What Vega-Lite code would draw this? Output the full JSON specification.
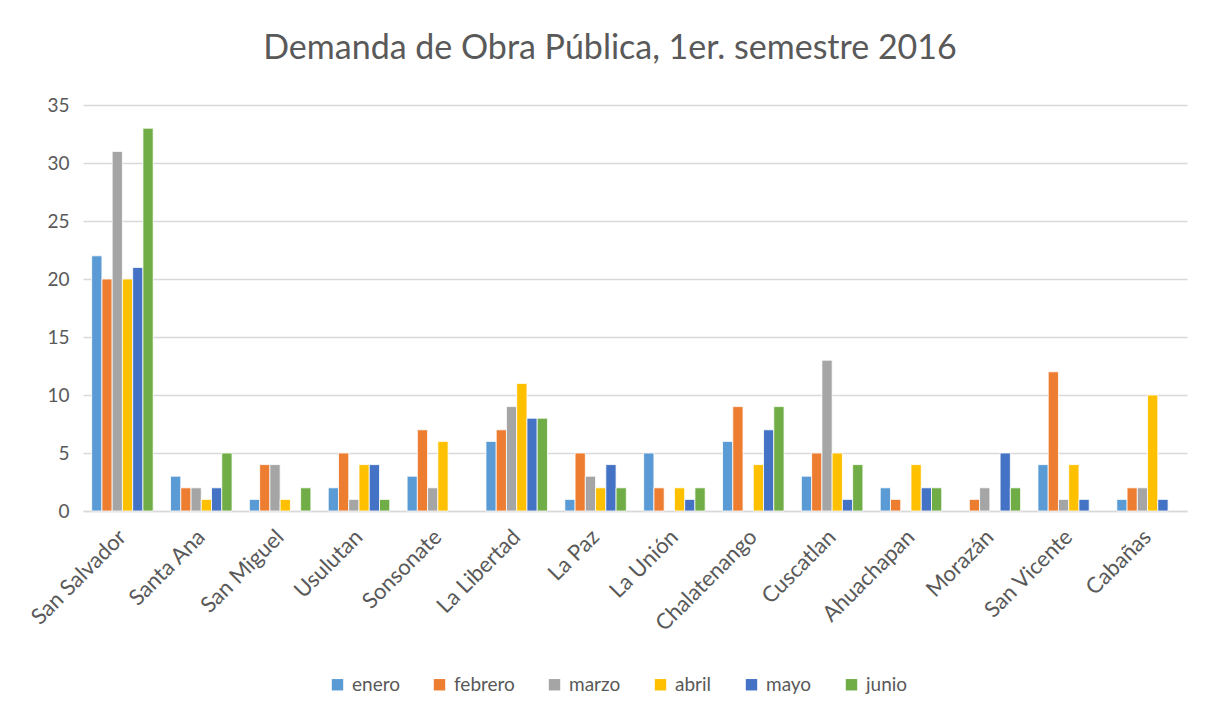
{
  "$schema": "https://vega.github.io/schema/vega-lite/v6.json",
  "width": 1104,
  "height": 406,
  "autosize": {"type": "none"},
  "padding": {"left": 83, "top": 105, "right": 27, "bottom": 206},
  "background": "white",
  "title": {
    "text": "Demanda de Obra Pública, 1er. semestre 2016",
    "font": "Lato",
    "fontSize": 34,
    "fontWeight": "normal",
    "color": "#595959",
    "anchor": "middle",
    "offset": 30,
    "dx": -25
  },
  "data": {
    "values": [
      {"dep": "San Salvador", "mes": "enero", "n": 22},
      {"dep": "San Salvador", "mes": "febrero", "n": 20},
      {"dep": "San Salvador", "mes": "marzo", "n": 31},
      {"dep": "San Salvador", "mes": "abril", "n": 20},
      {"dep": "San Salvador", "mes": "mayo", "n": 21},
      {"dep": "San Salvador", "mes": "junio", "n": 33},
      {"dep": "Santa Ana", "mes": "enero", "n": 3},
      {"dep": "Santa Ana", "mes": "febrero", "n": 2},
      {"dep": "Santa Ana", "mes": "marzo", "n": 2},
      {"dep": "Santa Ana", "mes": "abril", "n": 1},
      {"dep": "Santa Ana", "mes": "mayo", "n": 2},
      {"dep": "Santa Ana", "mes": "junio", "n": 5},
      {"dep": "San Miguel", "mes": "enero", "n": 1},
      {"dep": "San Miguel", "mes": "febrero", "n": 4},
      {"dep": "San Miguel", "mes": "marzo", "n": 4},
      {"dep": "San Miguel", "mes": "abril", "n": 1},
      {"dep": "San Miguel", "mes": "junio", "n": 2},
      {"dep": "Usulutan", "mes": "enero", "n": 2},
      {"dep": "Usulutan", "mes": "febrero", "n": 5},
      {"dep": "Usulutan", "mes": "marzo", "n": 1},
      {"dep": "Usulutan", "mes": "abril", "n": 4},
      {"dep": "Usulutan", "mes": "mayo", "n": 4},
      {"dep": "Usulutan", "mes": "junio", "n": 1},
      {"dep": "Sonsonate", "mes": "enero", "n": 3},
      {"dep": "Sonsonate", "mes": "febrero", "n": 7},
      {"dep": "Sonsonate", "mes": "marzo", "n": 2},
      {"dep": "Sonsonate", "mes": "abril", "n": 6},
      {"dep": "La Libertad", "mes": "enero", "n": 6},
      {"dep": "La Libertad", "mes": "febrero", "n": 7},
      {"dep": "La Libertad", "mes": "marzo", "n": 9},
      {"dep": "La Libertad", "mes": "abril", "n": 11},
      {"dep": "La Libertad", "mes": "mayo", "n": 8},
      {"dep": "La Libertad", "mes": "junio", "n": 8},
      {"dep": "La Paz", "mes": "enero", "n": 1},
      {"dep": "La Paz", "mes": "febrero", "n": 5},
      {"dep": "La Paz", "mes": "marzo", "n": 3},
      {"dep": "La Paz", "mes": "abril", "n": 2},
      {"dep": "La Paz", "mes": "mayo", "n": 4},
      {"dep": "La Paz", "mes": "junio", "n": 2},
      {"dep": "La Unión", "mes": "enero", "n": 5},
      {"dep": "La Unión", "mes": "febrero", "n": 2},
      {"dep": "La Unión", "mes": "abril", "n": 2},
      {"dep": "La Unión", "mes": "mayo", "n": 1},
      {"dep": "La Unión", "mes": "junio", "n": 2},
      {"dep": "Chalatenango", "mes": "enero", "n": 6},
      {"dep": "Chalatenango", "mes": "febrero", "n": 9},
      {"dep": "Chalatenango", "mes": "abril", "n": 4},
      {"dep": "Chalatenango", "mes": "mayo", "n": 7},
      {"dep": "Chalatenango", "mes": "junio", "n": 9},
      {"dep": "Cuscatlan", "mes": "enero", "n": 3},
      {"dep": "Cuscatlan", "mes": "febrero", "n": 5},
      {"dep": "Cuscatlan", "mes": "marzo", "n": 13},
      {"dep": "Cuscatlan", "mes": "abril", "n": 5},
      {"dep": "Cuscatlan", "mes": "mayo", "n": 1},
      {"dep": "Cuscatlan", "mes": "junio", "n": 4},
      {"dep": "Ahuachapan", "mes": "enero", "n": 2},
      {"dep": "Ahuachapan", "mes": "febrero", "n": 1},
      {"dep": "Ahuachapan", "mes": "abril", "n": 4},
      {"dep": "Ahuachapan", "mes": "mayo", "n": 2},
      {"dep": "Ahuachapan", "mes": "junio", "n": 2},
      {"dep": "Morazán", "mes": "febrero", "n": 1},
      {"dep": "Morazán", "mes": "marzo", "n": 2},
      {"dep": "Morazán", "mes": "mayo", "n": 5},
      {"dep": "Morazán", "mes": "junio", "n": 2},
      {"dep": "San Vicente", "mes": "enero", "n": 4},
      {"dep": "San Vicente", "mes": "febrero", "n": 12},
      {"dep": "San Vicente", "mes": "marzo", "n": 1},
      {"dep": "San Vicente", "mes": "abril", "n": 4},
      {"dep": "San Vicente", "mes": "mayo", "n": 1},
      {"dep": "Cabañas", "mes": "enero", "n": 1},
      {"dep": "Cabañas", "mes": "febrero", "n": 2},
      {"dep": "Cabañas", "mes": "marzo", "n": 2},
      {"dep": "Cabañas", "mes": "abril", "n": 10},
      {"dep": "Cabañas", "mes": "mayo", "n": 1}
    ]
  },
  "mark": {"type": "bar", "stroke": "white", "strokeWidth": 0.8},
  "encoding": {
    "x": {
      "field": "dep",
      "type": "nominal",
      "sort": ["San Salvador", "Santa Ana", "San Miguel", "Usulutan", "Sonsonate", "La Libertad", "La Paz", "La Unión", "Chalatenango", "Cuscatlan", "Ahuachapan", "Morazán", "San Vicente", "Cabañas"],
      "scale": {"paddingInner": 0.22, "paddingOuter": 0.11},
      "axis": {
        "title": null,
        "labelAngle": -45,
        "labelFont": "Lato",
        "labelFontSize": 22,
        "labelColor": "#595959",
        "labelPadding": 15,
        "labelOffset": -7,
        "ticks": false,
        "domainColor": "#d9d9d9",
        "domainWidth": 1.5
      }
    },
    "xOffset": {
      "field": "mes",
      "type": "nominal",
      "sort": ["enero", "febrero", "marzo", "abril", "mayo", "junio"]
    },
    "y": {
      "field": "n",
      "type": "quantitative",
      "scale": {"domain": [0, 35], "nice": false},
      "axis": {
        "title": null,
        "values": [0, 5, 10, 15, 20, 25, 30, 35],
        "labelFont": "Lato",
        "labelFontSize": 19,
        "labelColor": "#595959",
        "labelPadding": 14,
        "ticks": false,
        "domain": false,
        "gridColor": "#d9d9d9",
        "gridWidth": 1.5
      }
    },
    "color": {
      "field": "mes",
      "type": "nominal",
      "sort": ["enero", "febrero", "marzo", "abril", "mayo", "junio"],
      "scale": {
        "domain": ["enero", "febrero", "marzo", "abril", "mayo", "junio"],
        "range": ["#5B9BD5", "#ED7D31", "#A5A5A5", "#FFC000", "#4472C4", "#70AD47"]
      },
      "legend": {
        "title": null,
        "orient": "none",
        "legendX": 245,
        "legendY": 570,
        "direction": "horizontal",
        "symbolType": "square",
        "symbolSize": 130,
        "symbolStrokeWidth": 0,
        "labelFont": "Lato",
        "labelFontSize": 19,
        "labelColor": "#595959",
        "columnPadding": 30,
        "labelOffset": 5
      }
    }
  },
  "config": {"view": {"stroke": null}}
}
